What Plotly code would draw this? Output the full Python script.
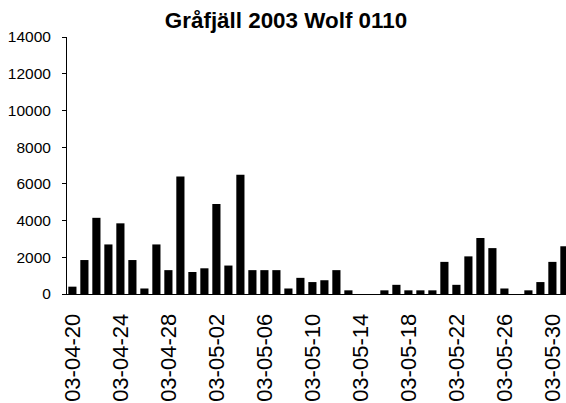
import plotly.graph_objects as go

dates = ["03-04-20", "03-04-21", "03-04-22", "03-04-23", "03-04-24", "03-04-25", "03-04-26",
         "03-04-27", "03-04-28", "03-04-29", "03-04-30", "03-05-01", "03-05-02", "03-05-03",
         "03-05-04", "03-05-05", "03-05-06", "03-05-07", "03-05-08", "03-05-09", "03-05-10",
         "03-05-11", "03-05-12", "03-05-13", "03-05-14", "03-05-15", "03-05-16", "03-05-17",
         "03-05-18", "03-05-19", "03-05-20", "03-05-21", "03-05-22", "03-05-23", "03-05-24",
         "03-05-25", "03-05-26", "03-05-27", "03-05-28", "03-05-29", "03-05-30", "03-05-31"]
values = [400, 1850, 4150, 2700, 3850, 1850, 300,
          2700, 1300, 6400, 1200, 1400, 4900, 1550,
          6500, 1300, 1300, 1300, 300, 880, 650,
          750, 1300, 200, 0, 0, 200, 500,
          200, 200, 200, 1750, 500, 2050, 3050,
          2500, 300, 0, 200, 650, 1750, 2600]
tick_labels = dates[::4]
y_ticks = [0, 2000, 4000, 6000, 8000, 10000, 12000, 14000]
y_tick_labels = [str(v) for v in y_ticks]

idx = list(range(len(dates)))

W, H = 566, 403

fig = go.Figure(go.Bar(x=idx, y=values, width=0.68, marker=dict(color="black", line=dict(width=0))))

fig.update_layout(
    width=W, height=H,
    margin=dict(l=67, r=0, t=36.5, b=109.2, autoexpand=False),
    paper_bgcolor="white", plot_bgcolor="white",
    font=dict(family="Liberation Sans, Arial, sans-serif", color="black"),
    title=dict(text="<b>Gråfjäll 2003 Wolf 0110</b>", font=dict(size=22.4, color="black"),
               x=286/W, xref="container", xanchor="center",
               y=1-20/H, yref="container", yanchor="middle"),
    showlegend=False,
)
fig.update_xaxes(
    range=[-0.45, 41.133],
    tickmode="array", tickvals=idx[::4], ticktext=tick_labels,
    tickangle=-90, tickfont=dict(size=22),
    showline=True, linecolor="black", linewidth=1,
    ticks="", showgrid=False, zeroline=False,
    ticklabelstandoff=10, automargin=False,
)
fig.update_yaxes(
    range=[0, 14000], tickmode="array", tickvals=y_ticks, ticktext=y_tick_labels,
    tickfont=dict(size=15.5),
    showline=True, linecolor="black", linewidth=1,
    ticks="outside", ticklen=4, tickcolor="black",
    showgrid=False, zeroline=False,
    ticklabelstandoff=8, automargin=False,
)

fig.write_html("out.html", config={"displayModeBar": False},
               post_script="document.body.style.margin='0';document.body.style.overflow='hidden';")
